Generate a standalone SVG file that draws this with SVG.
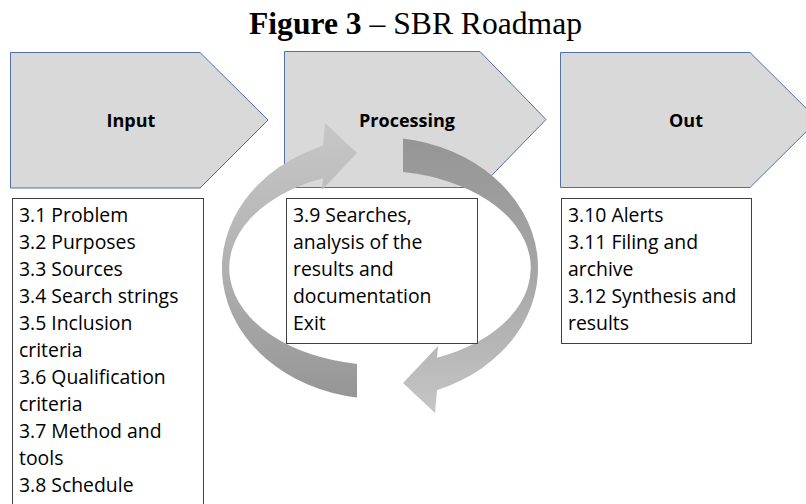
<svg xmlns="http://www.w3.org/2000/svg" width="806" height="504" viewBox="0 0 806 504">
<style>
.stage{fill:#d9d9d9;stroke:#4f6fad;stroke-width:1}
.hdr{font-family:"Open Sans","Liberation Sans",sans-serif;font-weight:bold;font-size:18px;fill:#000;text-anchor:middle}
.box{fill:#fff;stroke:#404040;stroke-width:1}
.lst{font-family:"Open Sans","Liberation Sans",sans-serif;font-size:19.4px;fill:#000}
.title{font-family:"Liberation Serif","Times New Roman",serif;font-size:31.6px;fill:#000}
</style>
<defs>
<linearGradient id="gL" gradientUnits="userSpaceOnUse" x1="0" y1="130" x2="0" y2="400">
<stop offset="0" stop-color="#c6c6c6"/><stop offset="0.45" stop-color="#b4b4b4"/><stop offset="1" stop-color="#959595"/>
</linearGradient>
<linearGradient id="gD" gradientUnits="userSpaceOnUse" x1="0" y1="135" x2="0" y2="415">
<stop offset="0" stop-color="#959595"/><stop offset="0.5" stop-color="#a6a6a6"/><stop offset="1" stop-color="#c6c6c6"/>
</linearGradient>
</defs>
<rect width="806" height="504" fill="#fff"/>
<text class="title" x="415.5" y="34" text-anchor="middle"><tspan font-weight="bold">Figure 3</tspan> – SBR Roadmap</text>

<g id="stage-input">
<path class="stage" d="M10.5,52.5 H200 L268,120 L200,188 H10.5 Z"/>
<text class="hdr" x="131" y="127">Input</text>
</g>
<g id="stage-processing">
<path class="stage" d="M284.5,51.5 H480 L546,119.5 L480,187.5 H284.5 Z"/>
<text class="hdr" x="407" y="127">Processing</text>
</g>
<g id="stage-out">
<path class="stage" d="M560.5,52.5 H750 L818,120 L750,187.5 H560.5 Z"/>
<text class="hdr" x="686" y="127">Out</text>
</g>

<g id="connectors">
<path fill="url(#gL)" d="M357,397.6 A158,131 0 0 1 323,145.8 L325,123 L357,153 L322,190 L323,178.3 A151,97 0 0 0 357,363.9 Z"/>
<path fill="url(#gD)" d="M403,138.4 A158,131 0 0 1 437,390.2 L435,413 L403,383 L438,346 L437,357.7 A151,97 0 0 0 403,172.1 Z"/>
</g>

<g id="list-input">
<rect class="box" x="12.5" y="198.5" width="191" height="320"/>
<text class="lst">
<tspan x="19" y="222">3.1 Problem</tspan>
<tspan x="19" y="249">3.2 Purposes</tspan>
<tspan x="19" y="276">3.3 Sources</tspan>
<tspan x="19" y="303">3.4 Search strings</tspan>
<tspan x="19" y="330">3.5 Inclusion</tspan>
<tspan x="19" y="357">criteria</tspan>
<tspan x="19" y="384">3.6 Qualification</tspan>
<tspan x="19" y="411">criteria</tspan>
<tspan x="19" y="438">3.7 Method and</tspan>
<tspan x="19" y="465">tools</tspan>
<tspan x="19" y="492">3.8 Schedule</tspan>
</text>
</g>
<g id="list-processing">
<rect class="box" x="286.5" y="198.5" width="191" height="145"/>
<text class="lst">
<tspan x="293" y="222">3.9 Searches,</tspan>
<tspan x="293" y="249">analysis of the</tspan>
<tspan x="293" y="276">results and</tspan>
<tspan x="293" y="303">documentation</tspan>
<tspan x="293" y="330">Exit</tspan>
</text>
</g>
<g id="list-out">
<rect class="box" x="561.5" y="198.5" width="190" height="145"/>
<text class="lst">
<tspan x="568" y="222">3.10 Alerts</tspan>
<tspan x="568" y="249">3.11 Filing and</tspan>
<tspan x="568" y="276">archive</tspan>
<tspan x="568" y="303">3.12 Synthesis and</tspan>
<tspan x="568" y="330">results</tspan>
</text>
</g>
</svg>
